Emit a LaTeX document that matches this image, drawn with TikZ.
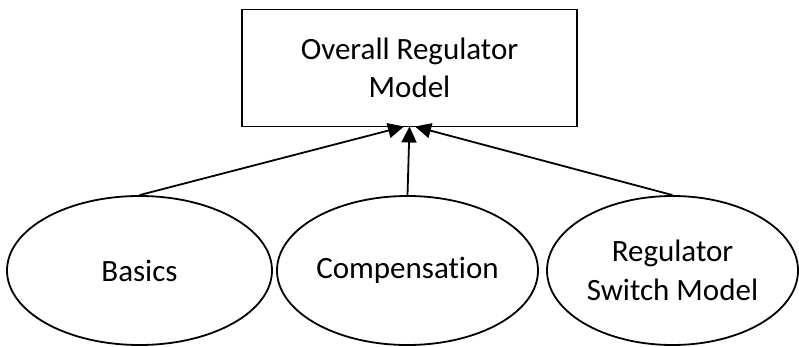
\documentclass[tikz,border=0pt]{standalone}
\usepackage{fontspec}
\setmainfont[Ligatures={NoCommon}]{Carlito}
\usetikzlibrary{shapes.geometric,arrows.meta}
\begin{document}
\begin{tikzpicture}[x=1pt,y=-1pt,
  every node/.style={font=\fontsize{31}{38.5}\selectfont, align=center, line width=1.8pt, inner sep=0pt},
  boxnode/.style={draw, rectangle, minimum width=335pt, minimum height=117pt},
  ellnode/.style={draw, ellipse},
  conn/.style={line width=1.8pt, -{Triangle[length=16pt,width=15pt]}}]
\useasboundingbox (0,0) rectangle (799,347);
\node[boxnode] (top) at (409.5,68) {Overall Regulator\\Model};
\node[ellnode, minimum width=265pt, minimum height=149pt] (b) at (139.5,270.5) {Basics};
\node[ellnode, minimum width=261pt, minimum height=149pt] (c) at (407.5,270.5) {Compensation};
\node[ellnode, minimum width=251pt, minimum height=149pt] (r) at (672.5,270.5) {Regulator\\Switch Model};
\coordinate (tl) at (404,126.5);
\coordinate (tm) at (409.5,126.5);
\coordinate (tr) at (415,126.5);
\draw[conn] (b.north) -- (tl);
\draw[conn] (c.north) -- (tm);
\draw[conn] (r.north) -- (tr);
\end{tikzpicture}
\end{document}
